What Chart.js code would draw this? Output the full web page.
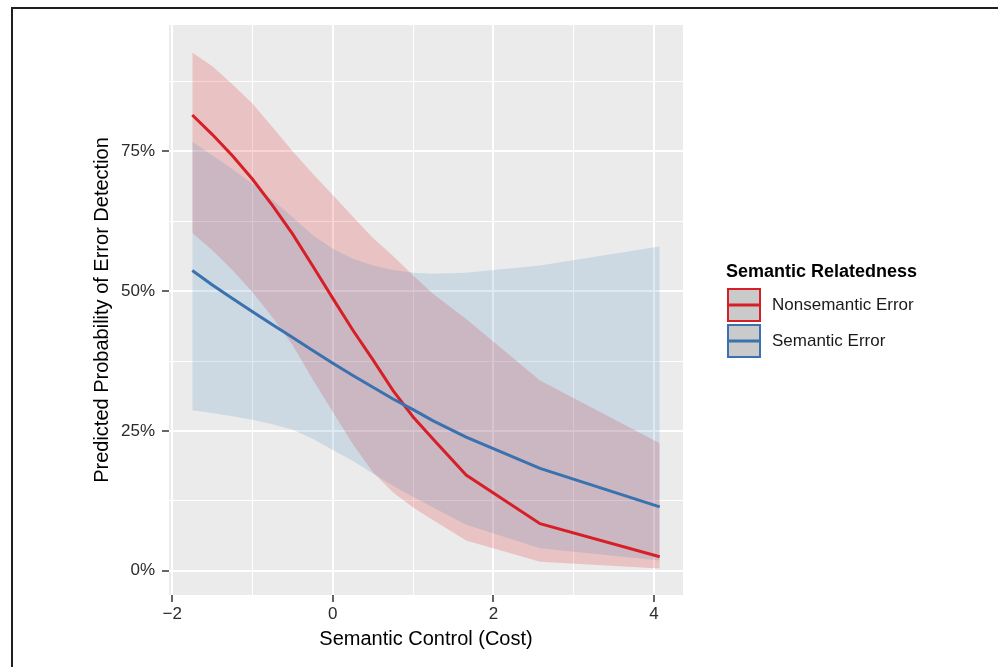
<!DOCTYPE html>
<html><head><meta charset="utf-8">
<script src="https://cdn.jsdelivr.net/npm/chart.js@4/dist/chart.umd.min.js"></script>
<style>html,body{margin:0;padding:0;background:#fff}#wrap{position:relative;width:998px;height:667px}</style>
</head><body><div id="wrap"><canvas id="c" width="998" height="667"></canvas></div>
<script>
// ---- data (percent) ----
const costX = [-1.75, -1.5, -1.25, -1, -0.75, -0.5, -0.25, 0, 0.25, 0.5, 0.75, 1, 1.25, 1.66, 2.58, 4.07];
const nonsemFit  = [81.5, 78.0, 74.2, 70.0, 65.3, 60.2, 54.5, 48.7, 43.0, 37.7, 32.2, 27.5, 23.5, 17.1, 8.4, 2.5];
const nonsemLow  = [60.4, 57.3, 53.8, 49.8, 45.3, 40.3, 34.2, 28.4, 22.6, 17.6, 14.0, 11.3, 9.0, 5.4, 1.6, 0.4];
const nonsemHigh = [92.7, 90.2, 87.0, 83.5, 79.3, 75.0, 71.0, 67.2, 63.3, 59.5, 56.3, 52.8, 49.5, 45.0, 34.0, 22.8];
const semFit  = [53.7, 51.1, 48.7, 46.3, 44.0, 41.7, 39.4, 37.1, 34.9, 32.8, 30.7, 28.8, 26.8, 23.9, 18.3, 11.4];
const semLow  = [28.7, 28.2, 27.6, 27.0, 26.2, 25.2, 23.6, 21.6, 19.6, 17.4, 15.2, 13.2, 11.3, 8.2, 4.0, 1.8];
const semHigh = [76.7, 74.3, 71.8, 69.2, 66.3, 63.2, 60.0, 57.6, 55.8, 54.6, 53.8, 53.3, 53.1, 53.3, 54.6, 58.0];

const xTicks = [-2, -1, 0, 1, 2, 3, 4];
const xMajor = [-2, 0, 2, 4];
const yTicks = [0, 12.5, 25, 37.5, 50, 62.5, 75, 87.5];
const yMajor = [0, 25, 50, 75];
const seriesNames = ['Nonsemantic Error', 'Semantic Error'];
const legendTitle = 'Semantic Relatedness';
const xTitle = 'Semantic Control (Cost)';
const yTitle = 'Predicted Probability of Error Detection';

// ---- styles ----
const RED = '#D71F27';
const BLUE = '#3A72B0';
const RED_FILL = 'rgba(228,26,28,0.19)';
const BLUE_FILL = 'rgba(55,126,184,0.17)';
const FONT = '"Liberation Sans", Arial, Helvetica, sans-serif';

const pts = (ys) => costX.map((x, i) => ({x: x, y: ys[i]}));
const band = (ys, order) => ({data: pts(ys), borderWidth: 0, borderColor: 'rgba(0,0,0,0)', pointRadius: 0, fill: false, order: order});

const panelBg = {
  id: 'panelBg',
  beforeDraw(chart) {
    const {ctx, chartArea: a} = chart;
    ctx.save();
    ctx.fillStyle = '#EBEBEB';
    ctx.fillRect(a.left, a.top, a.right - a.left, a.bottom - a.top);
    ctx.restore();
  }
};

const extras = {
  id: 'extras',
  afterDraw(chart) {
    const ctx = chart.ctx;
    ctx.save();
    // frame
    ctx.fillStyle = '#231F20';
    ctx.fillRect(11, 7, 987, 2);
    ctx.fillRect(11, 7, 2, 660);
    // legend
    ctx.fillStyle = '#000';
    ctx.font = 'bold 18px ' + FONT;
    ctx.textBaseline = 'alphabetic';
    ctx.textAlign = 'left';
    ctx.fillText(legendTitle, 726, 277);
    const cols = [RED, BLUE];
    for (let i = 0; i < seriesNames.length; i++) {
      const x0 = 727, y0 = 288 + i * 36, s = 34;
      ctx.fillStyle = '#CACACA';
      ctx.fillRect(x0, y0, s, s);
      ctx.strokeStyle = cols[i];
      ctx.lineWidth = 2;
      ctx.strokeRect(x0 + 1, y0 + 1, s - 2, s - 2);
      ctx.lineWidth = 3;
      ctx.beginPath();
      ctx.moveTo(x0 + 1, y0 + s / 2);
      ctx.lineTo(x0 + s - 1, y0 + s / 2);
      ctx.stroke();
      ctx.fillStyle = '#1a1a1a';
      ctx.font = '17px ' + FONT;
      ctx.textBaseline = 'middle';
      ctx.fillText(seriesNames[i], 772, y0 + s / 2);
    }
    ctx.restore();
  }
};

new Chart(document.getElementById('c'), {
  type: 'line',
  data: {
    datasets: [
      band(nonsemLow, 3),
      Object.assign(band(nonsemHigh, 3), {fill: '-1', backgroundColor: RED_FILL}),
      band(semLow, 2),
      Object.assign(band(semHigh, 2), {fill: '-1', backgroundColor: BLUE_FILL}),
      {label: seriesNames[0], data: pts(nonsemFit), borderColor: RED, borderWidth: 3, pointRadius: 0, fill: false, tension: 0, order: 1},
      {label: seriesNames[1], data: pts(semFit), borderColor: BLUE, borderWidth: 3, pointRadius: 0, fill: false, tension: 0, order: 0}
    ]
  },
  options: {
    responsive: false,
    animation: false,
    devicePixelRatio: 1,
    layout: {padding: {left: 90, right: 315, top: 25, bottom: 16}},
    plugins: {legend: {display: false}, tooltip: {enabled: false}},
    scales: {
      x: {
        type: 'linear', min: -2.04, max: 4.36,
        afterBuildTicks: (s) => { s.ticks = xTicks.map(v => ({value: v})); },
        afterFit: (s) => { s.height = 56; },
        border: {display: false},
        grid: {
          color: '#FFFFFF',
          lineWidth: (c) => xMajor.includes(c.tick && c.tick.value) ? 2 : 1,
          tickColor: (c) => xMajor.includes(c.tick && c.tick.value) ? '#333333' : 'rgba(0,0,0,0)',
          tickWidth: 1.5, tickLength: 7, drawTicks: true
        },
        ticks: {
          autoSkip: false, maxRotation: 0, padding: 2, color: '#2b2b2b',
          font: {family: FONT, size: 17},
          callback: (v) => xMajor.includes(v) ? (v < 0 ? '\u2212' + Math.abs(v) : String(v)) : ''
        },
        title: {display: true, text: xTitle, color: '#000', padding: 0, font: {family: FONT, size: 20}}
      },
      y: {
        type: 'linear', min: -4.35, max: 97.6,
        afterBuildTicks: (s) => { s.ticks = yTicks.map(v => ({value: v})); },
        afterFit: (s) => { s.width = 79; },
        border: {display: false},
        grid: {
          color: '#FFFFFF',
          lineWidth: (c) => yMajor.includes(c.tick && c.tick.value) ? 2 : 1,
          tickColor: (c) => yMajor.includes(c.tick && c.tick.value) ? '#333333' : 'rgba(0,0,0,0)',
          tickWidth: 1.5, tickLength: 7, drawTicks: true
        },
        ticks: {
          autoSkip: false, padding: 7, color: '#2b2b2b',
          font: {family: FONT, size: 17},
          callback: (v) => yMajor.includes(v) ? v + '%' : ''
        },
        title: {display: true, text: yTitle, color: '#000', padding: 0, font: {family: FONT, size: 20}}
      }
    }
  },
  plugins: [panelBg, extras]
});
</script>
</body></html>
